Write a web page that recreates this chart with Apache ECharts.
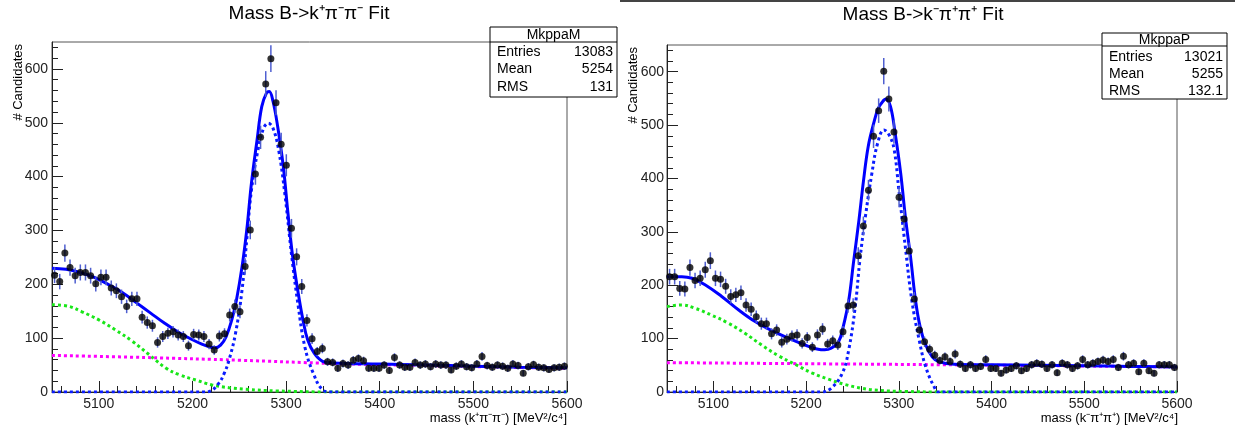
<!DOCTYPE html>
<html>
<head>
<meta charset="utf-8">
<title>Mass B fits</title>
<script src="https://cdn.jsdelivr.net/npm/echarts@6/dist/echarts.min.js"></script>
<style>
  html, body { margin: 0; padding: 0; background: #fff; }
  #main { width: 1235px; height: 436px; }
</style>
</head>
<body>
<div id="main"></div>
<script>
// histogram binning (100 bins, 5050 - 5600)
const BIN_LO = 5050;
const BIN_W = 5.5;

// B -> k+ pi- pi-
const countsM = [
  217, 205, 258, 231, 216, 222, 222, 216, 201, 213,
  213, 193, 188, 177, 159, 173, 173, 139, 129, 123,
  92, 103, 109, 112, 106, 103, 86, 107, 106, 103,
  89, 78, 104, 108, 143, 159, 149, 233, 301, 405,
  473, 572, 619, 537, 460, 421, 304, 251, 196, 133,
  99, 75, 81, 56, 55, 44, 53, 50, 59, 62,
  58, 44, 44, 44, 50, 40, 64, 50, 46, 46,
  55, 50, 52, 47, 52, 50, 50, 41, 48, 52,
  47, 45, 52, 66, 49, 46, 50, 48, 44, 52,
  49, 35, 47, 51, 46, 45, 42, 45, 46, 48
];
// B -> k- pi+ pi+
const countsP = [
  216, 216, 194, 193, 233, 209, 213, 229, 246, 213,
  211, 198, 179, 182, 186, 163, 155, 141, 128, 128,
  109, 116, 93, 99, 105, 107, 91, 102, 84, 107,
  118, 90, 96, 88, 113, 161, 163, 255, 311, 378,
  479, 527, 601, 549, 487, 365, 324, 264, 174, 116,
  94, 80, 69, 59, 66, 57, 71, 52, 44, 51,
  44, 48, 61, 44, 44, 35, 41, 44, 49, 40,
  44, 51, 54, 52, 44, 51, 36, 54, 51, 44,
  49, 61, 51, 54, 57, 60, 57, 61, 46, 67,
  51, 54, 38, 54, 40, 35, 51, 51, 51, 46
];

// fit curves: [mass, candidates]
const fitTotalM = [[5050,230],[5065,228],[5080,222],[5095,213],[5110,200],[5125,185],[5140,166],[5155,147],
  [5170,128],[5185,111],[5200,97],[5210,89],[5218,84],[5224,82],[5230,87],[5236,103],[5242,134],[5247,171],
  [5253,233],[5258,301],[5263,388],[5269,468],[5274,530],[5279,555],[5282,558],[5286,540],[5291,493],
  [5297,419],[5302,332],[5307,252],[5313,183],[5318,134],[5323,97],[5330,72],[5339,57],[5350,54],
  [5400,52],[5450,50],[5500,48],[5550,46],[5600,45]];
const fitSigM = [[5050,0],[5210,0],[5218,1],[5228,16],[5234,35],[5239,59],[5246,109],[5253,190],[5258,283],
  [5263,375],[5270,450],[5276,490],[5281,499],[5286,490],[5292,450],[5299,363],[5306,252],[5313,159],
  [5320,84],[5329,35],[5339,4],[5348,0],[5600,0]];
const fitPartM = [[5050,162],[5068,159],[5082,149],[5100,134],[5118,115],[5136,94],[5154,69],[5172,44],
  [5186,32],[5204,22],[5221,13],[5239,8],[5257,5],[5290,2],[5350,0],[5600,0]];
const fitCombM = [[5050,68],[5150,64],[5250,59],[5350,53],[5450,49],[5600,44]];

const fitTotalP = [[5050,216],[5066,216],[5077,213],[5091,201],[5109,179],[5127,154],[5145,132],[5163,115],
  [5181,101],[5199,88],[5213,80],[5220,79],[5227,82],[5235,94],[5240,122],[5246,172],[5251,241],[5257,322],
  [5262,397],[5267,460],[5273,504],[5278,532],[5284,547],[5286,549],[5291,535],[5296,485],[5302,410],
  [5307,329],[5313,248],[5318,172],[5323,122],[5329,88],[5336,66],[5343,57],[5360,52],[5400,51],
  [5450,50],[5500,49],[5550,48],[5600,47]];
const fitSigP = [[5050,0],[5216,0],[5227,7],[5239,35],[5246,79],[5253,160],[5258,247],[5264,329],[5271,410],
  [5277,465],[5284,491],[5290,480],[5295,454],[5300,379],[5307,272],[5314,172],[5322,97],[5329,47],
  [5338,10],[5343,0],[5600,0]];
const fitPartP = [[5050,160],[5066,163],[5080,157],[5098,144],[5116,129],[5134,110],[5152,88],[5170,68],
  [5188,52],[5206,36],[5224,24],[5242,14],[5260,7],[5278,3],[5307,1],[5350,0],[5600,0]];
const fitCombP = [[5050,55],[5200,53],[5350,51],[5600,47]];

// axis ticks
const xLabelVals = [5100, 5200, 5300, 5400, 5500, 5600];
const xMinorVals = [5060, 5080, 5100, 5120, 5140, 5160, 5180, 5200, 5220, 5240, 5260, 5280, 5300,
  5320, 5340, 5360, 5380, 5400, 5420, 5440, 5460, 5480, 5500, 5520, 5540, 5560, 5580, 5600];
const yLabelVals = [0, 100, 200, 300, 400, 500, 600];
const yMinorVals = [0, 20, 40, 60, 80, 100, 120, 140, 160, 180, 200, 220, 240, 260, 280, 300, 320, 340,
  360, 380, 400, 420, 440, 460, 480, 500, 520, 540, 560, 580, 600, 620, 640];

// stats boxes
const statsM = [['Entries', '13083'], ['Mean', '5254'], ['RMS', '131']];
const statsP = [['Entries', '13021'], ['Mean', '5255'], ['RMS', '132.1']];

const FONT = '"Liberation Sans", Arial, Helvetica, sans-serif';
const C = {
  axis: '#222', frame: '#555', err: '#4f5fd0',
  total: '#0000ff', sig: '#0a1cff', part: '#19e619', comb: '#ff00ff',
};

function xAxes(grid) {
  return [{
    gridIndex: grid, type: 'value', min: 5050, max: 5600, position: 'bottom',
    axisLine: { show: true, onZero: false, lineStyle: { color: C.axis, width: 1 } },
    axisTick: { show: true, inside: true, length: 11, customValues: xLabelVals, lineStyle: { color: C.axis } },
    axisLabel: { customValues: xLabelVals, margin: 5, fontSize: 14, fontFamily: FONT, color: C.axis,
      formatter: v => String(v) },
    splitLine: { show: false },
  }, {
    gridIndex: grid, type: 'value', min: 5050, max: 5600, position: 'bottom',
    axisLine: { show: false, onZero: false },
    axisTick: { show: true, inside: true, length: 6, customValues: xMinorVals, lineStyle: { color: C.axis } },
    axisLabel: { show: false },
    splitLine: { show: false },
  }];
}

function yAxes(grid, margin) {
  return [{
    gridIndex: grid, type: 'value', min: 0, max: 650, position: 'left',
    axisLine: { show: true, onZero: false, lineStyle: { color: C.axis, width: 1 } },
    axisTick: { show: true, inside: true, length: 11, customValues: yLabelVals, lineStyle: { color: C.axis } },
    axisLabel: { customValues: yLabelVals, margin: margin, fontSize: 14, fontFamily: FONT, color: C.axis,
      formatter: v => String(v) },
    splitLine: { show: false },
  }, {
    gridIndex: grid, type: 'value', min: 0, max: 650, position: 'left',
    axisLine: { show: false, onZero: false },
    axisTick: { show: true, inside: true, length: 6, customValues: yMinorVals, lineStyle: { color: C.axis } },
    axisLabel: { show: false },
    splitLine: { show: false },
  }];
}

function curve(data, ax, color, dotted, z) {
  return {
    type: 'line', data: data, xAxisIndex: ax, yAxisIndex: ax,
    smooth: 0.4, showSymbol: false, symbol: 'none', clip: true, silent: true, z: z,
    lineStyle: { color: color, width: 3, type: dotted ? [3, 3] : 'solid' },
  };
}

function panelSeries(counts, total, sig, part, comb, ax) {
  const pts = counts.map((n, i) => [BIN_LO + BIN_W * (i + 0.5), n]);
  return [
    curve(comb, ax, C.comb, true, 2),
    curve(part, ax, C.part, true, 2),
    curve(sig, ax, C.sig, true, 3),
    curve(total, ax, C.total, false, 4),
    {
      type: 'custom', xAxisIndex: ax, yAxisIndex: ax, clip: true, silent: true, z: 5,
      data: pts.map(p => [p[0], p[1], Math.sqrt(p[1])]),
      encode: { x: 0, y: 1 },
      renderItem(params, api) {
        const x = api.value(0), y = api.value(1), e = api.value(2);
        const a = api.coord([x, y - e]), b = api.coord([x, y + e]);
        return {
          type: 'line',
          shape: { x1: a[0], y1: a[1], x2: b[0], y2: b[1] },
          style: { stroke: C.err, lineWidth: 1.5 },
        };
      },
    },
    {
      type: 'scatter', xAxisIndex: ax, yAxisIndex: ax, data: pts, silent: true, z: 6,
      symbol: 'circle', symbolSize: 7, itemStyle: { color: '#000' },
    },
  ];
}

function txt(x, y, s, size, align, vAlign, extra) {
  return Object.assign({
    type: 'text', x: x, y: y, z: 100,
    style: { text: s, font: size + 'px ' + FONT, fill: '#000', align: align, verticalAlign: vAlign },
  }, extra || {});
}

function statsBox(name, rows, x, y, w, h, headH, rowYs) {
  const els = [
    { type: 'rect', z: 90, shape: { x: x, y: y, width: w, height: h },
      style: { fill: '#fff', stroke: '#000', lineWidth: 1 } },
    { type: 'line', z: 91, shape: { x1: x, y1: y + headH, x2: x + w, y2: y + headH },
      style: { stroke: '#000', lineWidth: 1 } },
    txt(x + w / 2, y + headH / 2 + 1, name, 14, 'center', 'middle'),
  ];
  rows.forEach((r, i) => {
    els.push(txt(x + 7, rowYs[i], r[0], 14, 'left', 'middle'));
    els.push(txt(x + w - 4, rowYs[i], r[1], 14, 'right', 'middle'));
  });
  return els;
}

const chart = echarts.init(document.getElementById('main'));
chart.setOption({
  backgroundColor: '#fff',
  animation: false,
  grid: [
    { left: 52, top: 42, width: 515, height: 350, show: true, borderColor: C.frame, borderWidth: 1 },
    { left: 667, top: 45, width: 510, height: 347, show: true, borderColor: C.frame, borderWidth: 1 },
  ],
  xAxis: [...xAxes(0), ...xAxes(1)],
  yAxis: [...yAxes(0, 4), ...yAxes(1, 3)],
  series: [
    ...panelSeries(countsM, fitTotalM, fitSigM, fitPartM, fitCombM, 0),
    ...panelSeries(countsP, fitTotalP, fitSigP, fitPartP, fitCombP, 2),
  ],
  graphic: [
    { type: 'line', z: 100, shape: { x1: 620, y1: 1, x2: 1235, y2: 1 }, style: { stroke: '#444', lineWidth: 2 } },
    txt(309, 14, 'Mass B->k\u207A\u03C0\u207B\u03C0\u207B Fit', 19, 'center', 'middle'),
    txt(923, 15, 'Mass B->k\u207B\u03C0\u207A\u03C0\u207A Fit', 19, 'center', 'middle'),
    txt(18, 44, '# Candidates', 13, 'right', 'middle', { rotation: Math.PI / 2 }),
    txt(633, 47, '# Candidates', 13, 'right', 'middle', { rotation: Math.PI / 2 }),
    txt(567, 418, 'mass (k\u207A\u03C0\u207B\u03C0\u207B) [MeV\u00B2/c\u2074]', 13, 'right', 'middle'),
    txt(1178, 418, 'mass (k\u207B\u03C0\u207A\u03C0\u207A) [MeV\u00B2/c\u2074]', 13, 'right', 'middle'),
    ...statsBox('MkppaM', statsM, 490, 27, 127, 70, 15, [52, 69.5, 87]),
    ...statsBox('MkppaP', statsP, 1102, 33, 125, 66, 13, [57, 74, 91]),
  ],
});
</script>
</body>
</html>
